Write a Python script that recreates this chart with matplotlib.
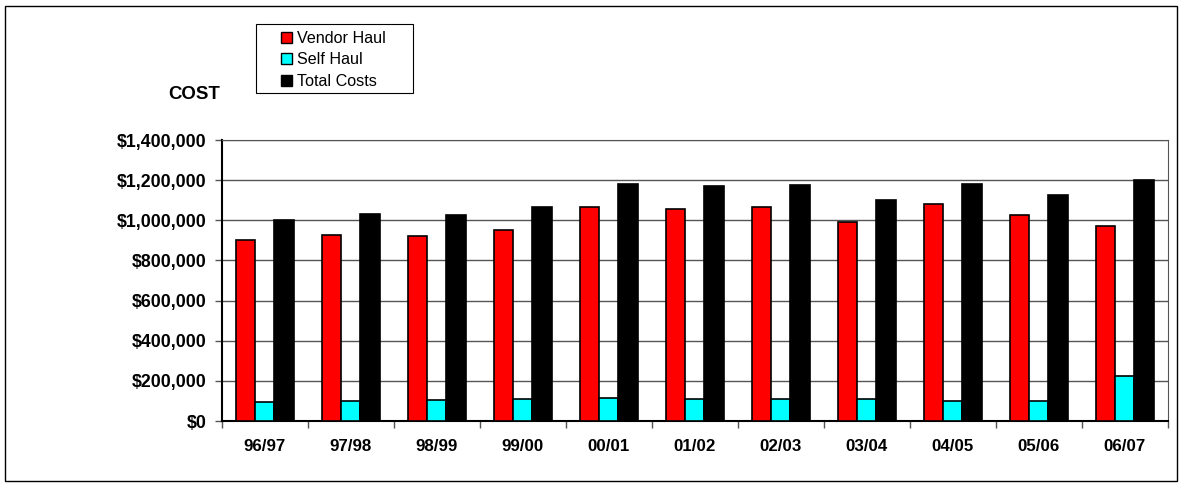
import matplotlib

matplotlib.use("Agg")
import matplotlib.pyplot as plt
import numpy as np
from matplotlib.patches import Patch, Rectangle
from matplotlib.ticker import FuncFormatter, FixedLocator

plt.rcParams["font.family"] = ["Liberation Sans", "DejaVu Sans"]

years = ["96/97", "97/98", "98/99", "99/00", "00/01", "01/02",
         "02/03", "03/04", "04/05", "05/06", "06/07"]
vendor_haul = [902000, 928000, 920000, 952000, 1065000, 1058000,
               1065000, 992000, 1080000, 1025000, 970000]
self_haul = [97000, 100000, 105000, 110000, 113000, 112000,
             108000, 110000, 98500, 100000, 225000]
total_costs = [1003500, 1033000, 1028000, 1065000, 1182000, 1172000,
               1177000, 1102000, 1182000, 1127000, 1200000]
yticks = [0, 200000, 400000, 600000, 800000, 1000000, 1200000, 1400000]


def main():
    fig = plt.figure(figsize=(11.83, 4.86), dpi=100)
    W, H = 1183, 486
    ax = fig.add_axes([0.1874, 0.1337, 0.7996, 0.5782])

    x = np.arange(len(years))
    w = 0.225
    series = [(vendor_haul, "#ff0000", "Vendor Haul"),
              (self_haul, "#00ffff", "Self Haul"),
              (total_costs, "#000000", "Total Costs")]
    for i, (vals, col, lab) in enumerate(series):
        ax.bar(x + (i - 1) * w, vals, w, color=col, edgecolor="black",
               linewidth=1.2, label=lab, zorder=3)

    ax.set_xlim(-0.5, len(years) - 0.5)
    ax.set_ylim(0, 1400000)
    ax.yaxis.set_major_locator(FixedLocator(yticks))
    ax.yaxis.set_major_formatter(FuncFormatter(lambda v, _: f"${v:,.0f}"))
    ax.grid(axis="y", color="#555555", lw=1.0, zorder=0)

    # category labels centred, tick marks between categories
    ax.set_xticks(np.arange(len(years) + 1) - 0.5)
    ax.set_xticklabels([])
    ax.set_xticks(x, minor=True)
    ax.set_xticklabels(years, minor=True, fontweight="bold", fontsize=12.2)
    ax.tick_params(axis="x", which="minor", length=0, pad=13)
    ax.tick_params(axis="x", which="major", length=5, width=1, color="#555555")
    ax.tick_params(axis="y", length=5, width=1, labelsize=12.8, pad=6,
                   color="#555555")
    for t in ax.get_yticklabels():
        t.set_fontweight("bold")

    for s in ["top", "right"]:
        ax.spines[s].set_color("#555555")
    for s in ["left", "bottom"]:
        ax.spines[s].set_color("black")
        ax.spines[s].set_linewidth(1.5)

    fig.text(0.142, 0.805, "COST", fontweight="bold", fontsize=13.4,
             ha="left", va="center")

    # legend entries without frame, box drawn separately (wider padding)
    handles = [Patch(facecolor=c, edgecolor="black", label=l) for _, c, l in series]
    fig.legend(handles=handles, loc="upper left",
               bbox_to_anchor=(281 / W, 1 - 31 / H),
               fontsize=11.6, frameon=False,
               handlelength=0.7, handleheight=0.7, handletextpad=0.3,
               labelspacing=0.4, borderpad=0, borderaxespad=0)
    fig.patches.append(Rectangle((256 / W, 1 - 93 / H), 157 / W, 69 / H,
                                 transform=fig.transFigure, fill=False,
                                 edgecolor="black", lw=0.8))

    fig.patches.append(Rectangle((5 / W, 5 / H), 1 - 11 / W, 1 - 11 / H,
                                 transform=fig.transFigure, fill=False,
                                 edgecolor="black", lw=1))

    fig.savefig("out.png", dpi=100)


if __name__ == "__main__":
    main()
